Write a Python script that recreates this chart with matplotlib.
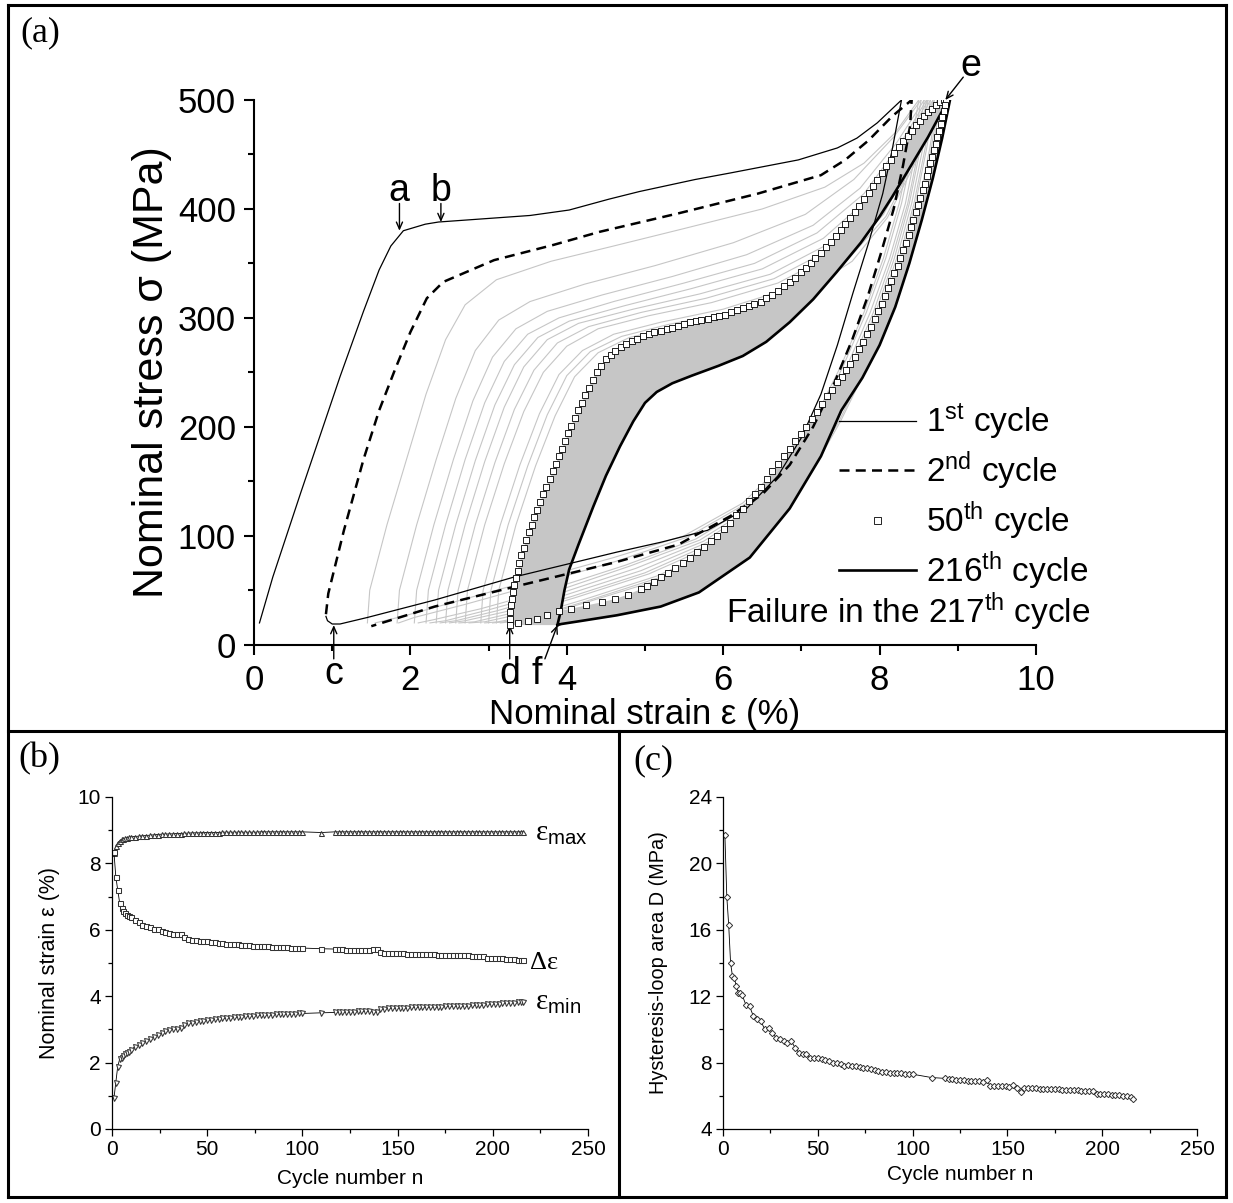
import numpy as np
import matplotlib
matplotlib.use('Agg')
import matplotlib.pyplot as plt
from matplotlib.lines import Line2D
from matplotlib.ticker import MultipleLocator

plt.rcParams['font.family'] = ['Liberation Sans', 'DejaVu Sans']
plt.rcParams['mathtext.fontset'] = 'custom'
plt.rcParams['mathtext.rm'] = 'Liberation Sans'
plt.rcParams['mathtext.it'] = 'Liberation Sans'

# ---------------- (a) hysteresis loops: (strain %, stress MPa) ----------------
c1_load = [(0.07, 20), (0.24, 62), (0.60, 140), (1.10, 246), (1.40, 306), (1.60, 344),
           (1.75, 366), (1.91, 380), (2.19, 386), (2.36, 388), (3.53, 394), (4.03, 399),
           (4.54, 409), (4.93, 416), (5.64, 427), (6.09, 433), (6.96, 445), (7.46, 456),
           (7.71, 465), (7.97, 479), (8.28, 500)]
c1_unload = [(8.28, 500), (8.16, 454), (8.04, 414), (7.86, 369), (7.66, 323), (7.46, 275),
             (7.25, 230), (7.00, 190), (6.70, 155), (6.30, 125), (5.80, 105), (5.20, 94),
             (4.64, 85), (3.32, 62), (2.31, 41), (1.45, 25), (1.10, 19), (1.00, 19),
             (0.94, 22), (0.92, 26)]

c2_load = [(0.92, 28), (0.95, 47), (1.15, 105), (1.40, 170), (1.60, 215), (1.80, 252),
           (2.00, 287), (2.21, 318), (2.42, 333), (3.07, 353), (3.83, 367), (4.42, 379),
           (5.43, 396), (6.44, 414), (7.25, 431), (7.56, 445), (7.86, 463), (8.16, 485),
           (8.41, 500)]
c2_unload = [(8.41, 500), (8.39, 476), (8.30, 440), (8.18, 400), (8.02, 360), (7.85, 320),
             (7.65, 280), (7.42, 240), (7.15, 200), (6.85, 165), (6.50, 138), (6.09, 118),
             (5.43, 92), (4.64, 76), (3.32, 53), (2.31, 35), (1.50, 17)]

c50_load = [(3.27, 18), (3.275, 24), (3.28, 30), (3.29, 36), (3.30, 42), (3.315, 48),
            (3.33, 55), (3.35, 61), (3.37, 68), (3.395, 75), (3.42, 82), (3.45, 89),
            (3.48, 96), (3.515, 103), (3.55, 110), (3.585, 117), (3.62, 124), (3.66, 131),
            (3.70, 138), (3.74, 145), (3.78, 152), (3.82, 159), (3.86, 166), (3.90, 173),
            (3.94, 180), (3.98, 187), (4.02, 194), (4.06, 201), (4.10, 208), (4.145, 215),
            (4.19, 222), (4.235, 229), (4.28, 236), (4.33, 243), (4.38, 250), (4.44, 256),
            (4.50, 262), (4.56, 266), (4.62, 270), (4.69, 273), (4.76, 276), (4.83, 279),
            (4.90, 281), (4.97, 283), (5.05, 285), (5.12, 287), (5.20, 288), (5.28, 290),
            (5.35, 291), (5.42, 293), (5.50, 294), (5.58, 296), (5.65, 297), (5.72, 298),
            (5.80, 299), (5.88, 301), (5.95, 302), (6.02, 303), (6.10, 305), (6.18, 307),
            (6.25, 309), (6.33, 311), (6.40, 313), (6.48, 315), (6.55, 318), (6.62, 321),
            (6.70, 325), (6.78, 329), (6.85, 333), (6.92, 337), (7.00, 342), (7.06, 346),
            (7.12, 350), (7.18, 355), (7.25, 360), (7.31, 365), (7.38, 370), (7.44, 375),
            (7.50, 381), (7.56, 386), (7.62, 392), (7.68, 397), (7.74, 403), (7.80, 409),
            (7.86, 415), (7.92, 421), (7.97, 427), (8.03, 433), (8.08, 439), (8.14, 445),
            (8.19, 451), (8.25, 457), (8.30, 462), (8.36, 467), (8.41, 472), (8.47, 477),
            (8.52, 481), (8.57, 485), (8.62, 489), (8.67, 492), (8.72, 495), (8.77, 498),
            (8.82, 500)]
c50_unload = [(8.85, 500), (8.835, 495), (8.82, 490), (8.80, 484), (8.78, 478), (8.76, 472),
              (8.74, 466), (8.72, 460), (8.70, 454), (8.675, 448), (8.65, 442), (8.625, 436),
              (8.60, 430), (8.575, 423), (8.55, 417), (8.52, 410), (8.49, 404), (8.46, 397),
              (8.43, 390), (8.40, 383), (8.37, 376), (8.335, 369), (8.30, 362), (8.265, 355),
              (8.23, 348), (8.19, 341), (8.15, 334), (8.11, 327), (8.07, 320), (8.025, 313),
              (7.98, 306), (7.935, 299), (7.89, 292), (7.84, 285), (7.79, 278), (7.735, 271),
              (7.68, 264), (7.625, 258), (7.57, 252), (7.515, 246), (7.46, 241), (7.395, 234),
              (7.33, 228), (7.265, 221), (7.20, 214), (7.13, 207), (7.06, 200), (6.99, 193),
              (6.92, 187), (6.85, 180), (6.78, 173), (6.705, 166), (6.63, 159), (6.555, 152),
              (6.48, 145), (6.405, 138), (6.33, 132), (6.25, 125), (6.17, 119), (6.09, 112),
              (6.01, 106), (5.925, 100), (5.84, 95), (5.75, 90), (5.66, 85), (5.57, 80),
              (5.48, 75), (5.39, 70), (5.30, 66), (5.21, 62), (5.12, 58), (5.03, 54),
              (4.95, 51), (4.78, 46), (4.62, 42), (4.45, 39), (4.25, 36), (4.05, 33),
              (3.90, 31), (3.75, 27), (3.62, 24), (3.50, 22), (3.38, 20)]

c216_load = [(3.88, 18), (3.92, 30), (3.97, 50), (4.03, 69), (4.15, 92), (4.34, 127),
             (4.50, 155), (4.68, 182), (4.85, 205), (5.00, 222), (5.15, 232), (5.35, 240),
             (5.60, 247), (5.94, 256), (6.25, 265), (6.55, 278), (6.85, 296), (7.15, 317),
             (7.45, 342), (7.76, 369), (8.00, 393), (8.16, 411), (8.32, 430), (8.47, 448),
             (8.62, 466), (8.77, 486), (8.88, 500)]
c216_unload = [(8.90, 500), (8.80, 465), (8.68, 428), (8.54, 390), (8.38, 350), (8.20, 310),
               (8.00, 275), (7.78, 245), (7.51, 215), (7.25, 173), (6.85, 125), (6.34, 80),
               (5.69, 48), (5.20, 35), (4.64, 27), (4.20, 22), (3.93, 19), (3.88, 18)]

# intermediate cycles (light grey)
gray_load = [
    [(1.45, 20), (1.48, 50), (1.70, 110), (1.95, 170), (2.20, 230), (2.45, 280), (2.70, 312),
     (3.10, 335), (3.80, 352), (4.60, 366), (5.50, 382), (6.50, 400), (7.30, 420), (7.80, 442),
     (8.20, 470), (8.50, 500)],
    [(1.83, 20), (1.86, 50), (2.08, 110), (2.33, 170), (2.58, 226), (2.83, 270), (3.13, 298),
     (3.53, 315), (4.23, 331), (5.13, 348), (6.13, 369), (7.05, 395), (7.67, 427), (8.18, 466),
     (8.53, 500)],
    [(2.05, 20), (2.08, 50), (2.30, 110), (2.55, 170), (2.80, 224), (3.05, 264), (3.35, 290),
     (3.75, 306), (4.45, 321), (5.35, 338), (6.30, 358), (7.15, 385), (7.75, 419), (8.22, 461),
     (8.57, 500)],
    [(2.20, 20), (2.23, 50), (2.45, 110), (2.70, 170), (2.95, 222), (3.20, 260), (3.50, 285),
     (3.90, 300), (4.60, 315), (5.50, 332), (6.40, 350), (7.20, 378), (7.80, 414), (8.25, 458),
     (8.60, 500)],
    [(2.33, 20), (2.36, 50), (2.58, 110), (2.83, 169), (3.08, 220), (3.33, 257), (3.63, 282),
     (4.03, 297), (4.73, 311), (5.60, 327), (6.50, 345), (7.28, 373), (7.85, 409), (8.28, 455),
     (8.62, 500)],
    [(2.45, 20), (2.48, 50), (2.70, 110), (2.95, 168), (3.20, 218), (3.45, 255), (3.75, 280),
     (4.15, 295), (4.85, 308), (5.70, 322), (6.60, 340), (7.35, 368), (7.90, 405), (8.30, 452),
     (8.65, 500)],
    [(2.58, 20), (2.61, 50), (2.83, 110), (3.08, 167), (3.33, 216), (3.58, 252), (3.88, 277),
     (4.28, 292), (4.95, 305), (5.78, 318), (6.65, 336), (7.40, 364), (7.95, 402), (8.34, 450),
     (8.68, 500)],
    [(2.70, 20), (2.73, 50), (2.95, 110), (3.20, 166), (3.45, 214), (3.70, 250), (4.00, 274),
     (4.40, 290), (5.05, 302), (5.85, 314), (6.70, 332), (7.45, 360), (8.00, 400), (8.38, 448),
     (8.70, 500)],
    [(2.90, 20), (2.93, 50), (3.15, 110), (3.40, 165), (3.65, 212), (3.90, 248), (4.20, 270),
     (4.60, 285), (5.20, 296), (6.00, 308), (6.80, 326), (7.55, 356), (8.05, 395), (8.42, 445),
     (8.74, 500)],
    [(3.00, 20), (3.03, 50), (3.25, 110), (3.50, 164), (3.75, 211), (4.00, 247), (4.30, 269),
     (4.70, 283), (5.30, 294), (6.10, 305), (6.90, 324), (7.60, 354), (8.08, 393), (8.44, 444),
     (8.76, 500)],
    [(3.10, 20), (3.13, 50), (3.35, 110), (3.60, 164), (3.85, 210), (4.10, 246), (4.40, 268),
     (4.80, 282), (5.40, 292), (6.20, 303), (7.00, 322), (7.65, 352), (8.10, 392), (8.46, 443),
     (8.78, 500)],
]
gray_unload = [
    [(8.50, 500), (8.40, 455), (8.25, 405), (8.05, 355), (7.80, 305), (7.50, 255), (7.15, 205),
     (6.75, 165), (6.25, 130), (5.50, 100), (4.60, 80), (3.50, 58), (2.60, 40), (1.90, 26),
     (1.55, 20)],
    [(8.53, 500), (8.43, 455), (8.28, 405), (8.08, 355), (7.83, 305), (7.53, 255), (7.18, 205),
     (6.78, 164), (6.28, 129), (5.55, 99), (4.65, 77), (3.60, 55), (2.70, 37), (2.05, 25),
     (1.85, 20)],
    [(8.57, 500), (8.47, 455), (8.33, 405), (8.13, 355), (7.88, 305), (7.58, 255), (7.23, 205),
     (6.83, 162), (6.33, 127), (5.65, 97), (4.75, 73), (3.80, 51), (2.90, 33), (2.30, 23),
     (2.10, 20)],
    [(8.60, 500), (8.50, 455), (8.36, 405), (8.16, 355), (7.92, 305), (7.62, 255), (7.27, 205),
     (6.87, 162), (6.37, 126), (5.70, 96), (4.80, 72), (3.90, 50), (3.00, 32), (2.45, 22),
     (2.25, 20)],
    [(8.62, 500), (8.52, 455), (8.38, 405), (8.19, 355), (7.95, 305), (7.65, 255), (7.30, 205),
     (6.90, 161), (6.40, 125), (5.75, 95), (4.88, 70), (3.95, 48), (3.10, 31), (2.58, 22),
     (2.38, 20)],
    [(8.65, 500), (8.55, 455), (8.41, 405), (8.22, 355), (7.98, 305), (7.68, 255), (7.33, 205),
     (6.93, 160), (6.43, 124), (5.80, 94), (4.95, 68), (4.00, 46), (3.20, 30), (2.70, 22),
     (2.50, 20)],
    [(8.68, 500), (8.58, 455), (8.44, 405), (8.25, 355), (8.01, 305), (7.71, 255), (7.36, 205),
     (6.96, 159), (6.47, 122), (5.85, 93), (5.00, 66), (4.05, 44), (3.30, 29), (2.82, 21),
     (2.62, 20)],
    [(8.70, 500), (8.60, 455), (8.46, 405), (8.27, 355), (8.04, 305), (7.74, 255), (7.39, 205),
     (6.99, 158), (6.50, 121), (5.90, 92), (5.05, 65), (4.10, 43), (3.40, 28), (2.95, 21),
     (2.75, 20)],
    [(8.74, 500), (8.64, 455), (8.50, 405), (8.31, 355), (8.08, 305), (7.79, 255), (7.45, 205),
     (7.05, 157), (6.58, 120), (6.00, 90), (5.15, 63), (4.20, 41), (3.55, 27), (3.12, 21),
     (2.95, 20)],
    [(8.76, 500), (8.66, 455), (8.52, 405), (8.34, 355), (8.11, 305), (7.82, 255), (7.48, 205),
     (7.09, 157), (6.62, 119), (6.04, 89), (5.20, 62), (4.25, 40), (3.60, 26), (3.20, 21),
     (3.05, 20)],
    [(8.78, 500), (8.68, 455), (8.54, 405), (8.36, 355), (8.13, 305), (7.84, 255), (7.50, 205),
     (7.12, 157), (6.66, 119), (6.08, 88), (5.25, 61), (4.30, 40), (3.65, 26), (3.28, 21),
     (3.15, 20)],
]

# ---------------- (b) and (c): per-cycle values ----------------
cycles = list(range(1, 11)) + list(range(12, 101, 2)) + [110] + list(range(117, 216, 2)) + [216]

eps_max = [8.32, 8.52, 8.62, 8.68, 8.72, 8.74, 8.76, 8.78, 8.79, 8.80,
           8.81, 8.82, 8.83, 8.84, 8.85, 8.86, 8.87, 8.88, 8.88, 8.89, 8.89, 8.90, 8.90, 8.91,
           8.91, 8.92, 8.92, 8.92, 8.93, 8.93, 8.93, 8.93, 8.93, 8.94, 8.94, 8.94, 8.94, 8.94,
           8.94, 8.94, 8.94, 8.94, 8.94, 8.95, 8.95, 8.95, 8.95, 8.95, 8.95, 8.95, 8.95, 8.95,
           8.95, 8.95, 8.95,
           8.93,
           8.95, 8.95, 8.95, 8.95, 8.95, 8.95, 8.95, 8.95, 8.95, 8.95, 8.95, 8.95, 8.95, 8.95,
           8.95, 8.95, 8.95, 8.95, 8.95, 8.95, 8.95, 8.95, 8.95, 8.95, 8.95, 8.95, 8.95, 8.95,
           8.95, 8.95, 8.95, 8.95, 8.95, 8.95, 8.95, 8.95, 8.95, 8.95, 8.95, 8.95, 8.95, 8.95,
           8.95, 8.95, 8.95, 8.95, 8.95, 8.95, 8.95, 8.95,
           8.95]

d_eps = [8.35, 7.60, 7.20, 6.82, 6.65, 6.58, 6.50, 6.45, 6.42, 6.38,
         6.30, 6.22, 6.15, 6.12, 6.08, 6.02, 6.03, 5.96, 5.93, 5.90, 5.87, 5.86, 5.88, 5.78,
         5.72, 5.70, 5.68, 5.67, 5.66, 5.65, 5.63, 5.62, 5.60, 5.59, 5.58, 5.58, 5.57, 5.56,
         5.55, 5.54, 5.53, 5.52, 5.52, 5.51, 5.50, 5.50, 5.49, 5.48, 5.48, 5.47, 5.47, 5.46,
         5.46, 5.45, 5.45,
         5.43,
         5.42, 5.41, 5.41, 5.40, 5.40, 5.40, 5.39, 5.39, 5.39, 5.40, 5.41, 5.42, 5.32, 5.31,
         5.31, 5.30, 5.30, 5.30, 5.29, 5.28, 5.28, 5.28, 5.27, 5.27, 5.26, 5.26, 5.26, 5.25,
         5.25, 5.25, 5.24, 5.24, 5.24, 5.23, 5.23, 5.23, 5.22, 5.22, 5.22, 5.20, 5.16, 5.16,
         5.15, 5.15, 5.14, 5.13, 5.12, 5.11, 5.10, 5.09,
         5.08]

eps_min = [0.92, 1.40, 1.88, 2.10, 2.15, 2.20, 2.26, 2.30, 2.33, 2.38,
           2.48, 2.52, 2.58, 2.65, 2.72, 2.78, 2.82, 2.88, 2.95, 2.98, 3.00, 3.02, 3.03, 3.12,
           3.18, 3.20, 3.22, 3.24, 3.25, 3.27, 3.29, 3.30, 3.32, 3.33, 3.34, 3.35, 3.36, 3.37,
           3.38, 3.39, 3.40, 3.41, 3.42, 3.42, 3.43, 3.44, 3.44, 3.45, 3.45, 3.46, 3.46, 3.47,
           3.47, 3.48, 3.48,
           3.50,
           3.51, 3.52, 3.52, 3.52, 3.53, 3.53, 3.54, 3.54, 3.54, 3.54, 3.53, 3.53, 3.62, 3.62,
           3.63, 3.63, 3.64, 3.64, 3.65, 3.65, 3.66, 3.66, 3.66, 3.67, 3.67, 3.67, 3.68, 3.68,
           3.68, 3.69, 3.69, 3.69, 3.70, 3.70, 3.71, 3.71, 3.72, 3.72, 3.72, 3.74, 3.77, 3.77,
           3.78, 3.78, 3.79, 3.80, 3.80, 3.81, 3.82, 3.82,
           3.83]

loop_area = [21.7, 18.0, 16.3, 14.0, 13.2, 13.1, 12.6, 12.2, 12.2, 12.1,
             11.5, 11.4, 10.8, 10.6, 10.5, 10.0, 10.1, 9.8, 9.5, 9.4, 9.3, 9.2, 9.3, 8.9,
             8.6, 8.5, 8.5, 8.3, 8.3, 8.25, 8.2, 8.15, 8.1, 8.0, 8.0, 7.9, 7.8, 7.85,
             7.8, 7.8, 7.75, 7.7, 7.7, 7.6, 7.55, 7.5, 7.45, 7.45, 7.4, 7.4, 7.35, 7.35,
             7.3, 7.3, 7.3,
             7.1,
             7.05, 7.0, 7.0, 6.98, 6.95, 6.95, 6.92, 6.9, 6.9, 6.88, 6.85, 6.95, 6.6, 6.6,
             6.6, 6.58, 6.58, 6.55, 6.65, 6.45, 6.2, 6.5, 6.5, 6.45, 6.45, 6.42, 6.42, 6.4,
             6.4, 6.38, 6.38, 6.35, 6.35, 6.33, 6.33, 6.32, 6.3, 6.3, 6.3, 6.3, 6.1, 6.1,
             6.08, 6.08, 6.05, 6.05, 6.02, 6.0, 5.98, 5.95,
             5.8]


def xy(pairs):
    a = np.array(pairs, dtype=float)
    return a[:, 0], a[:, 1]


def style_axis(ax, lw, size, length):
    for s in ['top', 'right']:
        ax.spines[s].set_visible(False)
    for s in ['left', 'bottom']:
        ax.spines[s].set_linewidth(lw)
    ax.tick_params(which='both', direction='out', width=lw, labelsize=size)
    ax.tick_params(which='major', length=length)
    ax.tick_params(which='minor', length=length * 0.6)


fig = plt.figure(figsize=(12.33, 12.03), dpi=100)

# panel frames
W, H = 1233.0, 1203.0
def fline(x0, y0, x1, y1):
    fig.add_artist(Line2D([x0 / W, x1 / W], [1 - y0 / H, 1 - y1 / H],
                          transform=fig.transFigure, color='k', lw=2.2))
fline(8, 5, 1226, 5)
fline(8, 1197, 1226, 1197)
fline(8, 5, 8, 1197)
fline(1226, 5, 1226, 1197)
fline(8, 731, 1226, 731)
fline(619, 731, 619, 1197)

serif = ['Liberation Serif', 'DejaVu Serif']
fig.text(20 / W, 1 - 16 / H, '(a)', family=serif, fontsize=26, va='top')
fig.text(18 / W, 1 - 742 / H, '(b)', family=serif, fontsize=26, va='top')
fig.text(633 / W, 1 - 744 / H, '(c)', family=serif, fontsize=26, va='top')

# ---------------- (a) ----------------
ax = fig.add_axes([254 / W, 1 - 644.7 / H, 782 / W, 544.7 / H])
gcol = '#c6c6c6'
for i in range(len(gray_load)):
    ax.plot(*xy(gray_load[i]), color=gcol, lw=0.8, zorder=1)
    ax.plot(*xy(gray_unload[i]), color=gcol, lw=0.8, zorder=1)

lx, ly = xy(c50_load)
kx, ky = xy(c216_load)
ax.fill(np.r_[lx, kx[::-1]], np.r_[ly, ky[::-1]], color=gcol, lw=0, zorder=1)
ux, uy = xy(c50_unload)
vx, vy = xy(c216_unload)
ax.fill(np.r_[ux, vx[::-1]], np.r_[uy, vy[::-1]], color=gcol, lw=0, zorder=1)

l1, = ax.plot(*xy(c1_load + c1_unload), color='k', lw=0.9, zorder=3)
l2, = ax.plot(*xy(c2_load + c2_unload), color='k', lw=1.8, ls=(0, (4, 2.5)), zorder=3)
l4, = ax.plot(*xy(c216_load + c216_unload), color='k', lw=1.9, zorder=3)
l3, = ax.plot(*xy(c50_load + c50_unload), ls='none', marker='s', ms=4.2, mfc='white',
              mec='k', mew=0.6, zorder=4)

ax.set_xlim(0, 10)
ax.set_ylim(0, 500)
ax.xaxis.set_major_locator(MultipleLocator(2))
ax.xaxis.set_minor_locator(MultipleLocator(1))
ax.yaxis.set_major_locator(MultipleLocator(100))
ax.yaxis.set_minor_locator(MultipleLocator(50))
style_axis(ax, 1.5, 25, 7)
ax.tick_params(axis='y', pad=6)
ax.tick_params(axis='x', pad=7)
ax.set_ylabel('Nominal stress σ (MPa)', fontsize=31)
ax.set_xlabel('Nominal strain ε (%)', fontsize=25)
ax.yaxis.set_label_coords(-0.105, 0.5)
ax.xaxis.set_label_coords(0.5, -0.097)

leg = ax.legend([l1, l2, l3, l4],
                ['1$^{\\rm st}$ cycle', '2$^{\\rm nd}$ cycle', '50$^{\\rm th}$ cycle',
                 '216$^{\\rm th}$ cycle'],
                loc='upper left', bbox_to_anchor=(0.748, 0.446), frameon=False,
                fontsize=24, handlelength=2.3, handletextpad=0.3, labelspacing=0.22,
                borderpad=0, borderaxespad=0, numpoints=1, markerscale=1.2)
ax.text(0.604, 0.06, 'Failure in the 217$^{\\rm th}$ cycle', transform=ax.transAxes,
        fontsize=24, va='center', ha='left')

arrow = dict(arrowstyle='->,head_length=0.5,head_width=0.22', color='k', lw=1.0,
             shrinkA=0, shrinkB=0)
ax.text(1.85, 407, 'a', fontsize=27, ha='center', va='baseline')
ax.annotate('', xy=(1.86, 380), xytext=(1.86, 405), arrowprops=arrow)
ax.text(2.39, 407, 'b', fontsize=27, ha='center', va='baseline')
ax.annotate('', xy=(2.39, 388), xytext=(2.39, 405), arrowprops=arrow)
ax.text(9.17, 522, 'e', fontsize=27, ha='center', va='baseline')
ax.annotate('', xy=(8.84, 500), xytext=(9.07, 521), arrowprops=arrow, annotation_clip=False)
for lab, tx, tip in [('c', 1.02, 1.02), ('d', 3.27, 3.27), ('f', 3.62, 3.88)]:
    ax.text(tx, -36, lab, fontsize=27, ha='center', va='baseline', clip_on=False)
    ax.annotate('', xy=(tip, 18), xytext=(tx + (0.1 if lab == 'f' else 0), -13),
                arrowprops=arrow, annotation_clip=False)

# ---------------- (b) ----------------
axb = fig.add_axes([112 / W, 1 - 1129 / H, 476 / W, 332 / H])
mk = dict(ms=3.6, mfc='white', mec='#333333', mew=0.75, color='k', lw=0.6)
axb.plot(cycles, eps_max, marker='^', **mk)
axb.plot(cycles, d_eps, marker='s', **mk)
axb.plot(cycles, eps_min, marker='v', **mk)
axb.set_xlim(0, 250)
axb.set_ylim(0, 10)
axb.xaxis.set_major_locator(MultipleLocator(50))
axb.xaxis.set_minor_locator(MultipleLocator(25))
axb.yaxis.set_major_locator(MultipleLocator(2))
axb.yaxis.set_minor_locator(MultipleLocator(1))
style_axis(axb, 0.9, 15, 5)
axb.tick_params(pad=3)
axb.set_xlabel('Cycle number n', fontsize=15)
axb.set_ylabel('Nominal strain ε (%)', fontsize=15.5)
axb.xaxis.set_label_coords(0.5, -0.12)
axb.yaxis.set_label_coords(-0.11, 0.5)
axb.text(222, 8.9, 'ε$_{\\rm max}$', family=serif, fontsize=21, va='center')
axb.text(219.5, 5.0, 'Δε', family=serif, fontsize=19, va='center')
axb.text(222, 3.8, 'ε$_{\\rm min}$', family=serif, fontsize=21, va='center')

# ---------------- (c) ----------------
axc = fig.add_axes([723 / W, 1 - 1129 / H, 474 / W, 332 / H])
axc.plot(cycles, loop_area, marker='D', ms=3.2, mfc='white', mec='#333333', mew=0.7,
         color='k', lw=0.6)
axc.set_xlim(0, 250)
axc.set_ylim(4, 24)
axc.xaxis.set_major_locator(MultipleLocator(50))
axc.xaxis.set_minor_locator(MultipleLocator(25))
axc.yaxis.set_major_locator(MultipleLocator(4))
axc.yaxis.set_minor_locator(MultipleLocator(2))
style_axis(axc, 0.9, 15, 5)
axc.tick_params(pad=3)
axc.set_xlabel('Cycle number n', fontsize=15)
axc.set_ylabel('Hysteresis-loop area D (MPa)', fontsize=14.3)
axc.xaxis.set_label_coords(0.5, -0.108)
axc.yaxis.set_label_coords(-0.116, 0.5)

fig.savefig('out.png', dpi=100)
